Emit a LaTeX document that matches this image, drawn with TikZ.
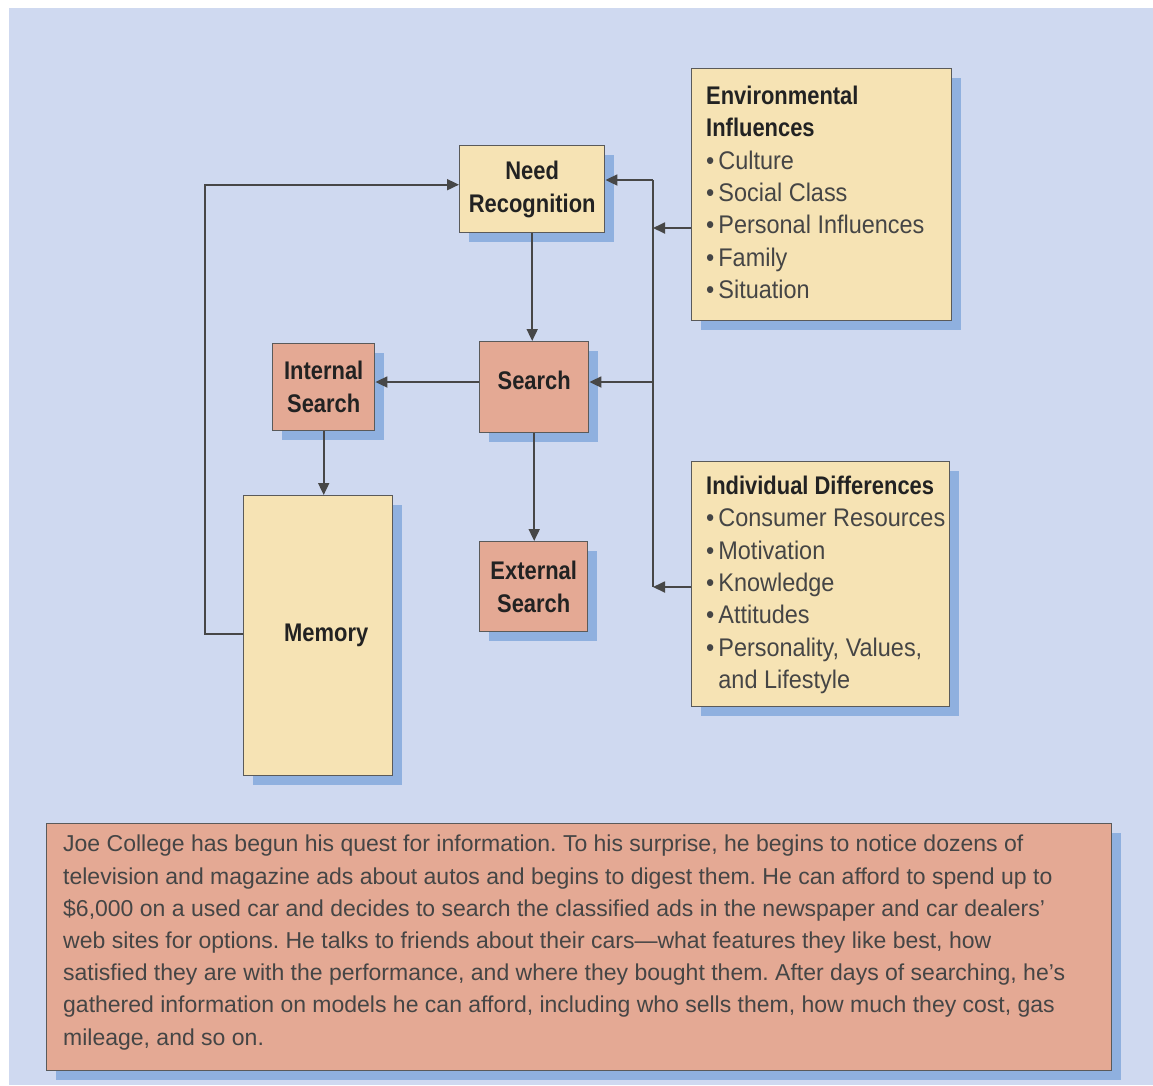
\documentclass[tikz,border=0pt]{standalone}
\usepackage{fontspec}
\setmainfont{Liberation Sans}[FakeStretch=0.92]
\newfontfamily\headfont{Liberation Sans}[FakeStretch=0.86]
\newfontfamily\storyfont{Liberation Sans}[FakeStretch=1.0]
\usetikzlibrary{arrows.meta,shadows}

\definecolor{bgblue}{HTML}{CFD9F0}
\definecolor{paleyellow}{HTML}{F6E3B4}
\definecolor{salmon}{HTML}{E4A994}
\definecolor{shadowblue}{HTML}{8FB0DF}
\definecolor{linegray}{HTML}{474747}
\definecolor{framegray}{HTML}{5A5A5A}
\definecolor{titleink}{HTML}{222222}
\definecolor{bodyink}{HTML}{454545}

\tikzset{
  box/.style={draw=framegray, line width=1.4pt, inner sep=0pt, anchor=north west,
    drop shadow={shadow xshift=9pt, shadow yshift=-9pt, fill=shadowblue, opacity=1}},
  ybox/.style={box, fill=paleyellow},
  sbox/.style={box, fill=salmon},
  title/.style={font={\fontsize{25.5}{33}\selectfont\headfont\bfseries}, text=titleink, align=center},
  listtext/.style={anchor=north west, inner sep=0pt, align=left,
    font={\fontsize{25.5}{32.3}\selectfont}, text=bodyink},
  conn/.style={draw=linegray, line width=1.8pt},
  arr/.style={conn, -{Triangle[length=12pt, width=11pt]}},
}

\newcommand{\itm}{\textbullet\hspace{4pt}}
\newcommand{\hd}[1]{{\headfont\bfseries\color{titleink}#1}}

\begin{document}
\begin{tikzpicture}[x=1pt, y=-1pt]
  \useasboundingbox (0,0) rectangle (1153,1085);
  \fill[bgblue] (9,8) rectangle (1153,1085);

  % process boxes
  \node[ybox, title, minimum width=145, minimum height=87] (need) at (459,145) {Need\\Recognition};
  \node[sbox, title, minimum width=109, minimum height=91, text depth=14pt] (search) at (479,341) {Search};
  \node[sbox, title, minimum width=102, minimum height=87] (intl) at (272,343) {Internal\\Search};
  \node[sbox, title, minimum width=108, minimum height=90] (ext) at (479,541) {External\\Search};
  \node[ybox, title, minimum width=149, minimum height=280] (mem) at (243,495) {\hspace{16pt}Memory};

  % influence boxes
  \node[ybox, minimum width=260, minimum height=252] (env) at (691,68) {};
  \node[listtext] (envtxt) at (706,86) {%
    \hd{Environmental}\\
    \hd{Influences}\\
    \itm Culture\\
    \itm Social Class\\
    \itm Personal Influences\\
    \itm Family\\
    \itm Situation};

  \node[ybox, minimum width=258, minimum height=245] (ind) at (691,461) {};
  \node[listtext] (indtxt) at (706,476) {%
    \hd{Individual Differences}\\
    \itm Consumer Resources\\
    \itm Motivation\\
    \itm Knowledge\\
    \itm Attitudes\\
    \itm Personality, Values,\\
    \phantom{\itm}and Lifestyle};

  % narrative box
  \node[sbox, minimum width=1065, minimum height=247] (story) at (46,823) {};
  \node[listtext, font={\fontsize{23}{32.2}\selectfont\storyfont\frenchspacing}, text=bodyink] (storytxt) at (63,835) {%
    Joe College has begun his quest for information. To his surprise, he begins to notice dozens of\\
    television and magazine ads about autos and begins to digest them. He can afford to spend up to\\
    \$6,000 on a used car and decides to search the classified ads in the newspaper and car dealers’\\
    web sites for options. He talks to friends about their cars—what features they like best, how\\
    satisfied they are with the performance, and where they bought them. After days of searching, he’s\\
    gathered information on models he can afford, including who sells them, how much they cost, gas\\
    mileage, and so on.};

  % junctions on the influence bus
  \coordinate (busTop) at (653,180);
  \coordinate (envJ) at (653,228);
  \coordinate (srJ) at (653,382);
  \coordinate (indJ) at (653,587);
  \coordinate (memJ) at (205,634);

  \draw[conn] (busTop) -- (indJ);
  \draw[arr] (busTop) -- (busTop -| need.east);
  \draw[arr] (envJ -| env.west) -- (envJ);
  \draw[arr] (indJ -| ind.west) -- (indJ);
  \draw[arr] (srJ) -- (srJ -| search.east);

  % main flow
  \draw[arr] (need.south) -- (need.south |- search.north);
  \draw[arr] (srJ -| search.west) -- (srJ -| intl.east);
  \draw[arr] (intl.south) -- (intl.south |- mem.north);
  \draw[arr] (search.south) -- (search.south |- ext.north);

  % feedback from memory
  \draw[arr] (memJ -| mem.west) -- (memJ) |- ([yshift=4.5pt]need.west);
\end{tikzpicture}
\end{document}
